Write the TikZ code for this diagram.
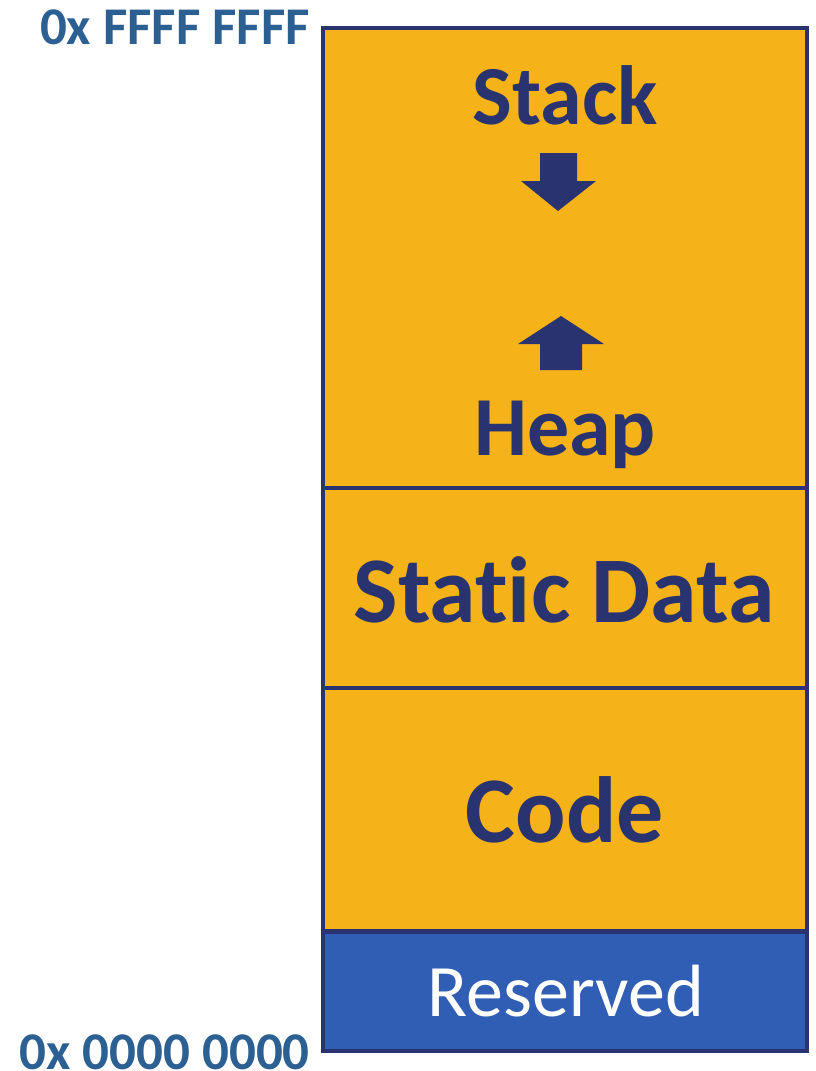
\documentclass[tikz,border=0pt]{standalone}
\usepackage{fontspec}
\setmainfont[Ligatures=NoCommon]{Carlito}
\definecolor{segfill}{HTML}{F6B219}
\definecolor{navy}{HTML}{283370}
\definecolor{resblue}{HTML}{305EB5}
\definecolor{addr}{HTML}{2D6092}
\begin{document}
\begin{tikzpicture}[x=1pt,y=-1pt,
  seg/.style={fill=segfill,draw=navy,line width=3.5pt},
  lbl/.style={text=navy,font=\bfseries\fontsize{84}{90}\selectfont,anchor=base,inner sep=0pt},
  biglbl/.style={text=navy,font=\bfseries\fontsize{94}{100}\selectfont,anchor=base,inner sep=0pt},
  addrlbl/.style={text=addr,font=\bfseries\fontsize{53}{56}\selectfont,anchor=base east,inner sep=0pt},
  arr/.style={fill=navy,draw=none}]
\useasboundingbox (0,0) rectangle (815,1071);
% segments
\draw[seg] (323,28) rectangle (807,488);
\draw[seg] (323,488) rectangle (807,688);
\draw[seg] (323,688) rectangle (807,931);
\draw[fill=resblue,draw=navy,line width=4pt] (323,932) rectangle (807,1051);
% texts
\node[lbl] (stack) at (565,124) {Stack};
\node[lbl] (heap) at (565,455) {Heap};
\node[biglbl] (static) at (564,622) {Static Data};
\node[biglbl] (code) at (565,842) {Code};
\node[text=white,font=\fontsize{74}{80}\selectfont,anchor=base,inner sep=0pt] (res) at (566,1016) {Reserved};
\node[addrlbl] (top) at (310,44) {0x FFFF FFFF};
\node[addrlbl] (bot) at (310,1069) {0x 0000 0000};
% arrows
\fill[arr] (540,153) -- (577,153) -- (577,181) -- (596,181) -- (558,211) -- (521,181) -- (540,181) -- cycle;
\fill[arr] (540,370) -- (582,370) -- (582,344) -- (604,344) -- (561,316) -- (518,344) -- (540,344) -- cycle;
\end{tikzpicture}
\end{document}
